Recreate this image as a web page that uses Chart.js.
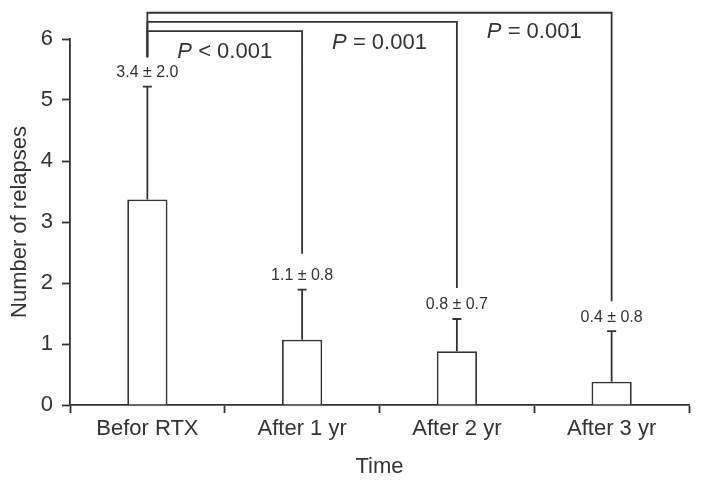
<!DOCTYPE html>
<html>
<head>
<meta charset="utf-8">
<script src="https://cdn.jsdelivr.net/npm/chart.js@4"></script>
<style>
  html, body { margin: 0; padding: 0; background: #fff; }
  #wrap { width: 702px; height: 487px; }
</style>
</head>
<body>
<div id="wrap"><canvas id="chart"></canvas></div>
<script>
const categories = ["Befor RTX", "After 1 yr", "After 2 yr", "After 3 yr"];
const means = [3.37, 1.07, 0.88, 0.38];
const errorTops = [5.22, 1.89, 1.41, 1.21];
const barLabels = ["3.4 \u00b1 2.0", "1.1 \u00b1 0.8", "0.8 \u00b1 0.7", "0.4 \u00b1 0.8"];
const yTicks = [0, 1, 2, 3, 4, 5, 6];

// brackets: from group, to group, level of the top line, leg ends (axis units)
const bracketFrom = [0, 0, 0];
const bracketTo = [1, 2, 3];
const bracketLevels = [6.13, 6.28, 6.43];
const bracketStartEnds = [5.70, 5.70, 5.70];
const bracketEndEnds = [2.48, 1.92, 1.70];

const pSigns = ["<", "=", "="];
const pValues = ["0.001", "0.001", "0.001"];
const pLabelX = [0.5, 1.5, 2.5];   // between groups
const pLabelY = [5.79, 5.93, 6.11];

const ink = "#333333";
const fontFamily = "'Liberation Sans', Arial, sans-serif";

function xAt(scale, v) {
    const i = Math.floor(v);
    const f = v - i;
    if (f === 0) return scale.getPixelForValue(i);
    return scale.getPixelForValue(i) * (1 - f) + scale.getPixelForValue(i + 1) * f;
}

const annotations = {
    id: "annotations",
    afterDatasetsDraw(chart) {
        const ctx = chart.ctx;
        const x = chart.scales.x;
        const y = chart.scales.y;
        ctx.save();
        ctx.strokeStyle = ink;
        ctx.fillStyle = ink;
        ctx.lineWidth = 1.8;

        // error bars
        means.forEach((m, i) => {
            const px = x.getPixelForValue(i);
            const top = y.getPixelForValue(errorTops[i]);
            ctx.beginPath();
            ctx.moveTo(px, y.getPixelForValue(m));
            ctx.lineTo(px, top);
            ctx.moveTo(px - 4.5, top);
            ctx.lineTo(px + 4.5, top);
            ctx.stroke();

            ctx.font = "16px " + fontFamily;
            ctx.textAlign = "center";
            ctx.textBaseline = "bottom";
            ctx.fillText(barLabels[i], px, top - 6);
        });

        // brackets
        bracketLevels.forEach((lvl, k) => {
            const x1 = x.getPixelForValue(bracketFrom[k]);
            const x2 = x.getPixelForValue(bracketTo[k]);
            ctx.beginPath();
            ctx.moveTo(x1, y.getPixelForValue(bracketStartEnds[k]));
            ctx.lineTo(x1, y.getPixelForValue(lvl));
            ctx.lineTo(x2, y.getPixelForValue(lvl));
            ctx.lineTo(x2, y.getPixelForValue(bracketEndEnds[k]));
            ctx.stroke();
        });

        // p values
        ctx.textBaseline = "middle";
        ctx.textAlign = "left";
        pSigns.forEach((s, k) => {
            const italic = "italic 22px " + fontFamily;
            const normal = "22px " + fontFamily;
            const rest = " " + s + " " + pValues[k];
            ctx.font = italic;
            const wP = ctx.measureText("P").width;
            ctx.font = normal;
            const wR = ctx.measureText(rest).width;
            const cx = xAt(x, pLabelX[k]);
            const cy = y.getPixelForValue(pLabelY[k]);
            const start = cx - (wP + wR) / 2;
            ctx.font = italic;
            ctx.fillText("P", start, cy);
            ctx.font = normal;
            ctx.fillText(rest, start + wP, cy);
        });
        ctx.restore();
    }
};

new Chart(document.getElementById("chart"), {
    type: "bar",
    data: {
        labels: categories,
        datasets: [{
            data: means,
            backgroundColor: "#ffffff",
            borderColor: ink,
            borderWidth: 1.8,
            categoryPercentage: 1,
            barPercentage: 0.26
        }]
    },
    options: {
        responsive: true,
        maintainAspectRatio: false,
        animation: false,
        layout: {
            padding: { top: 39, right: 13, bottom: 0, left: 0 }
        },
        plugins: {
            legend: { display: false },
            tooltip: { enabled: false }
        },
        scales: {
            x: {
                afterFit: s => { s.height = 82; },
                grid: {
                    drawOnChartArea: false,
                    drawTicks: true,
                    tickLength: 8,
                    tickWidth: 1.8,
                    color: ink
                },
                border: { display: true, color: ink, width: 1.8 },
                ticks: {
                    color: ink,
                    padding: 3,
                    font: { size: 22, family: fontFamily }
                },
                title: {
                    display: true,
                    text: "Time",
                    color: ink,
                    padding: { top: 0, bottom: 7 },
                    font: { size: 22, family: fontFamily }
                }
            },
            y: {
                min: 0,
                max: 6,
                afterFit: s => { s.width = 70; },
                afterBuildTicks: s => { s.ticks = yTicks.map(v => ({ value: v })); },
                grid: {
                    drawOnChartArea: false,
                    drawTicks: true,
                    tickLength: 8,
                    tickWidth: 1.8,
                    color: ink
                },
                border: { display: true, color: ink, width: 1.8 },
                ticks: {
                    color: ink,
                    padding: 9,
                    font: { size: 22, family: fontFamily }
                },
                title: {
                    display: true,
                    text: "Number of relapses",
                    color: ink,
                    padding: { top: 7, bottom: 0 },
                    font: { size: 22, family: fontFamily }
                }
            }
        }
    },
    plugins: [annotations]
});
</script>
</body>
</html>
